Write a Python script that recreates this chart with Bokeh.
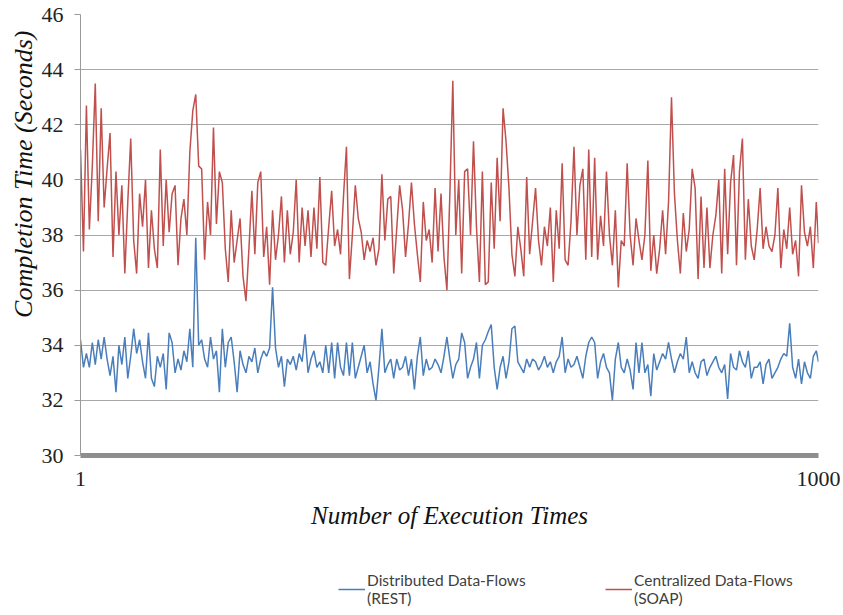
from bokeh.plotting import figure
from bokeh.layouts import column
from bokeh.models import Range1d, FixedTicker, Legend, LegendItem, Title
from bokeh.embed import file_html
from bokeh.resources import INLINE

# execution numbers (sampled every 4 runs) and completion times in seconds
runs = list(range(1, 1000, 4)) + [1000]

soap = [
    41.1, 37.4, 42.7, 38.2, 40.5, 43.5, 38.5, 42.6, 39.0, 40.4,
    41.7, 37.2, 40.3, 38.0, 39.8, 36.6, 39.2, 41.5, 37.8, 36.6,
    39.5, 38.3, 40.0, 36.8, 38.9, 37.5, 36.8, 41.1, 37.6, 40.0,
    38.1, 39.5, 39.8, 36.9, 38.6, 39.3, 38.0, 41.0, 42.5, 43.1,
    40.5, 40.4, 37.1, 39.2, 38.0, 41.9, 38.4, 40.3, 39.9, 37.5,
    36.3, 38.9, 37.0, 37.8, 38.6, 36.5, 35.6, 37.5, 39.6, 37.3,
    39.9, 40.3, 37.2, 38.3, 36.2, 38.9, 37.1, 38.0, 39.4, 37.0,
    38.9, 37.3, 38.1, 40.0, 37.0, 39.0, 37.6, 38.9, 37.2, 39.0,
    37.5, 40.1, 37.0, 36.9, 38.3, 39.6, 37.6, 38.2, 37.3, 39.4,
    41.2, 36.4, 38.0, 39.8, 38.6, 38.1, 37.1, 37.8, 37.4, 37.9,
    36.9, 37.5, 40.2, 37.8, 39.3, 39.4, 36.6, 38.2, 39.8, 38.9,
    37.2, 38.4, 39.9, 38.4, 37.3, 36.3, 39.2, 37.8, 38.2, 37.0,
    39.7, 37.4, 39.5, 37.2, 36.0, 39.5, 43.6, 38.0, 40.0, 36.6,
    40.3, 40.4, 38.0, 41.4, 38.3, 36.3, 40.3, 36.2, 36.3, 39.9,
    37.5, 40.8, 38.5, 42.6, 41.4, 39.7, 37.3, 36.5, 38.3, 37.5,
    36.5, 40.1, 37.3, 38.5, 39.7, 37.8, 36.9, 38.3, 37.6, 39.0,
    36.3, 38.9, 37.5, 40.6, 37.1, 36.9, 38.5, 41.2, 38.0, 39.8,
    40.4, 37.1, 41.1, 37.2, 40.8, 37.1, 38.7, 37.6, 40.3, 38.0,
    36.9, 38.9, 36.1, 37.8, 37.6, 40.6, 38.0, 36.9, 38.6, 37.8,
    37.1, 38.0, 40.7, 36.7, 38.0, 36.6, 37.5, 38.9, 37.3, 39.2,
    43.0, 39.5, 37.8, 36.6, 38.8, 37.4, 38.2, 40.4, 39.7, 36.4,
    39.4, 36.8, 39.0, 36.8, 38.0, 38.7, 40.0, 36.6, 40.4, 37.3,
    39.9, 40.9, 36.9, 40.3, 41.5, 37.1, 39.3, 37.6, 37.1, 38.2,
    39.7, 37.5, 38.3, 37.6, 37.4, 38.0, 39.7, 36.8, 38.2, 37.5,
    39.0, 37.3, 37.8, 36.5, 39.8, 38.1, 37.6, 38.3, 36.8, 39.2,
    37.7,
]

rest = [
    34.2, 33.2, 33.7, 33.2, 34.1, 33.3, 34.2, 33.5, 34.3, 33.5,
    32.9, 33.6, 32.3, 34.0, 33.3, 34.3, 32.8, 33.6, 34.6, 33.7,
    34.2, 33.4, 32.8, 34.45, 32.8, 32.5, 33.6, 33.2, 33.7, 32.4,
    34.45, 34.1, 33.0, 33.5, 33.1, 33.8, 33.4, 34.6, 33.2, 37.9,
    34.0, 34.2, 33.5, 33.2, 34.3, 33.5, 33.8, 32.3, 34.6, 33.2,
    34.1, 34.3, 33.4, 32.3, 33.8, 33.3, 33.0, 33.6, 33.4, 33.9,
    33.0, 33.5, 33.8, 33.6, 33.9, 36.1, 33.9, 33.2, 33.6, 32.5,
    33.5, 33.3, 33.6, 33.1, 33.7, 33.4, 34.4, 33.0, 33.5, 33.8,
    33.2, 33.4, 33.0, 34.0, 33.0, 34.1, 32.8, 34.1, 33.2, 32.9,
    34.1, 32.9, 34.1, 32.8, 33.2, 33.6, 34.0, 33.0, 33.4, 32.6,
    32.0, 33.2, 34.6, 33.0, 33.3, 33.5, 32.8, 33.5, 33.1, 33.2,
    33.6, 32.9, 33.5, 32.4, 33.6, 34.3, 32.9, 33.5, 33.1, 33.2,
    33.5, 33.3, 33.0, 33.6, 34.3, 33.5, 32.8, 33.3, 33.5, 34.45,
    34.1, 32.8, 33.2, 33.5, 34.1, 32.8, 34.0, 34.2, 34.5, 34.75,
    33.2, 32.4, 33.2, 33.6, 32.8, 33.4, 34.6, 34.7, 33.4, 33.2,
    33.0, 33.5, 33.2, 33.5, 33.4, 33.1, 33.3, 33.6, 33.2, 33.4,
    33.0, 33.4, 33.6, 34.3, 33.0, 33.5, 33.2, 33.3, 33.6, 33.2,
    32.8, 33.6, 34.1, 34.3, 34.1, 32.8, 33.4, 33.7, 33.2, 33.0,
    32.0, 33.5, 34.1, 33.2, 33.0, 33.5, 33.1, 32.4, 34.1, 33.0,
    34.1, 33.0, 33.3, 32.15, 33.7, 33.1, 33.4, 33.7, 33.5, 34.1,
    33.5, 33.0, 33.4, 33.7, 33.5, 34.3, 33.0, 33.4, 33.0, 32.8,
    33.4, 33.5, 32.9, 33.2, 33.4, 33.6, 33.2, 33.0, 33.3, 32.05,
    33.7, 33.2, 33.1, 33.8, 33.4, 33.2, 33.8, 32.8, 33.2, 33.2,
    33.4, 32.6, 33.3, 33.5, 32.8, 33.0, 33.2, 33.5, 33.7, 33.6,
    34.8, 33.2, 32.8, 33.5, 32.6, 33.4, 33.0, 32.8, 33.6, 33.8,
    33.4,
]

y_ticks = [30, 32, 34, 36, 38, 40, 42, 44, 46]
x_ticks = [1, 1000]

series_labels = ["Distributed Data-Flows\n(REST)", "Centralized Data-Flows\n(SOAP)"]
soap_color = "#c0504d"
rest_color = "#4a7ebb"

p = figure(width=840, height=560, output_backend="svg", toolbar_location=None,
           x_range=Range1d(1, 1000), y_range=Range1d(30, 46),
           min_border_left=80, min_border_right=22, min_border_top=14,
           min_border_bottom=105)
p.outline_line_color = None
p.background_fill_color = "white"
p.border_fill_color = "white"

serif = "Liberation Serif"

xa = p.xaxis[0]
xa.ticker = FixedTicker(ticks=x_ticks)
xa.axis_line_width = 5
xa.axis_line_color = "#8e8e8e"
xa.major_tick_line_color = None
xa.minor_tick_line_color = None
xa.major_label_text_font = serif
xa.major_label_text_font_size = "22px"
xa.major_label_text_color = "#222222"
xa.major_label_standoff = 10
xa.axis_label = "Number of Execution Times"
xa.axis_label_text_font = serif
xa.axis_label_text_font_style = "italic"
xa.axis_label_text_font_size = "25px"
xa.axis_label_text_color = "#111111"
xa.axis_label_standoff = 13

ya = p.yaxis[0]
ya.ticker = FixedTicker(ticks=y_ticks)
ya.axis_line_color = "#9a9a9a"
ya.major_tick_line_color = "#9a9a9a"
ya.major_tick_out = 6
ya.major_tick_in = 0
ya.minor_tick_line_color = None
ya.major_label_text_font = serif
ya.major_label_text_font_size = "22px"
ya.major_label_text_color = "#222222"
ya.major_label_standoff = 11

ytitle = Title(text="Completion Time (Seconds)", align="right", offset=16,
               text_font=serif, text_font_style="italic", text_font_size="26px",
               text_color="#111111", standoff=2)
p.add_layout(ytitle, "left")

p.xgrid.visible = False
p.ygrid.ticker = FixedTicker(ticks=y_ticks)
p.ygrid.grid_line_color = "#a8a8a8"
p.ygrid.grid_line_width = 1

p.line(runs, soap, line_color=soap_color, line_width=1.5)
p.line(runs, rest, line_color=rest_color, line_width=1.5)

# legend strip below the chart
lg = figure(width=840, height=52, output_backend="svg", toolbar_location=None,
            x_range=Range1d(0, 1), y_range=Range1d(0, 1),
            min_border_left=0, min_border_right=0, min_border_top=0,
            min_border_bottom=0)
lg.axis.visible = False
lg.grid.visible = False
lg.outline_line_color = None
lg.background_fill_color = "white"
lg.border_fill_color = "white"
k_rest = lg.line(runs, rest, line_color=rest_color, line_width=1.5, visible=False)
k_soap = lg.line(runs, soap, line_color=soap_color, line_width=1.5, visible=False)

legend = Legend(items=[LegendItem(label=series_labels[0], renderers=[k_rest]),
                       LegendItem(label=series_labels[1], renderers=[k_soap])],
                orientation="horizontal", location=(258, 5),
                border_line_color=None, background_fill_alpha=0,
                padding=0, margin=0, spacing=8, glyph_width=27,
                label_width=230, label_standoff=2, label_text_font="Lato",
                label_text_font_size="15.5px", label_text_color="#404040",
                label_text_line_height=1.35)
lg.add_layout(legend, "center")

page = column(p, lg, spacing=0)
open("out.html", "w").write(file_html(page, INLINE))
